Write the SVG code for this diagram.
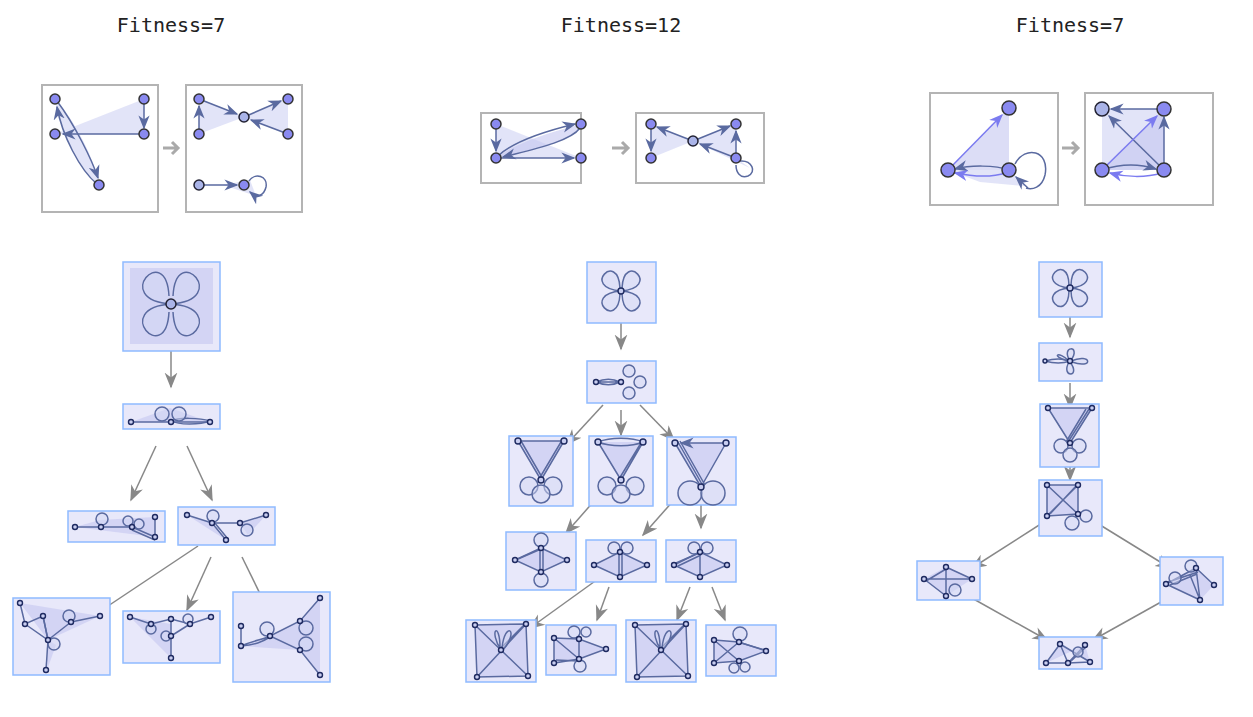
<svg xmlns="http://www.w3.org/2000/svg" width="1253" height="717" viewBox="0 0 1253 717">
<defs>
<marker id="ga" viewBox="0 0 10 10" refX="9" refY="5" markerWidth="9" markerHeight="9" orient="auto" markerUnits="userSpaceOnUse"><path d="M0,0 L10,5 L0,10 L3,5 Z" fill="#888"/></marker>
<marker id="ga2" viewBox="0 0 10 10" refX="9" refY="5" markerWidth="16" markerHeight="16" orient="auto" markerUnits="userSpaceOnUse"><path d="M0,1 L10,5 L0,9 L3,5 Z" fill="#888"/></marker>
<marker id="ea" viewBox="0 0 10 10" refX="9" refY="5" markerWidth="10" markerHeight="10" orient="auto" markerUnits="userSpaceOnUse"><path d="M0,1 L10,5 L0,9 L3,5 Z" fill="#5a6aa0"/></marker>
<marker id="eb" viewBox="0 0 10 10" refX="9" refY="5" markerWidth="14" markerHeight="14" orient="auto" markerUnits="userSpaceOnUse"><path d="M0,1 L10,5 L0,9 L3,5 Z" fill="#5a6aa0"/></marker>
<marker id="ep" viewBox="0 0 10 10" refX="9" refY="5" markerWidth="14" markerHeight="14" orient="auto" markerUnits="userSpaceOnUse"><path d="M0,1 L10,5 L0,9 L3,5 Z" fill="#7b7bf0"/></marker>
</defs>
<style>
.t{font-family:"DejaVu Sans Mono","Liberation Mono",monospace;font-size:20px;fill:#222;text-anchor:middle}
.rule{fill:#fff;stroke:#b4b4b4;stroke-width:2}
.box{fill:#e8e8fa;stroke:#8fbaff;stroke-width:1.5}
.sh{fill:#c4c7f0;opacity:0.6}
.sh2{fill:#dfe1f7;opacity:0.9}
.e{fill:none;stroke:#5a6aa0;stroke-width:1.5}
.ea{fill:none;stroke:#5a6aa0;stroke-width:1.5;marker-end:url(#eb)}
.ep{fill:none;stroke:#7b7bf0;stroke-width:1.5;marker-end:url(#ep)}
.lp{fill:#d4d7f4;fill-opacity:0.5;stroke:#5a6aa0;stroke-width:1.5}
.big{fill:#8a8af0;stroke:#333;stroke-width:1.5}
.bigl{fill:#aab4e8;stroke:#223;stroke-width:1.5}
.v{fill:#c8cdf0;stroke:#1e2a60;stroke-width:1.4}
.c{fill:none;stroke:#888;stroke-width:1.5;marker-end:url(#ga2)}
.ra{fill:none;stroke:#aaa;stroke-width:3}
</style>

<text class="t" x="171" y="32">Fitness=7</text>
<text class="t" x="621" y="32">Fitness=12</text>
<text class="t" x="1070" y="32">Fitness=7</text>

<g id="connectors">
<path class="ra" d="M163,148 H178 M172,142 L178,148 L172,154"/>
<path class="ra" d="M612,148 H628 M622,142 L628,148 L622,154"/>
<path class="ra" d="M1062,148 H1078 M1072,142 L1078,148 L1072,154"/>
<line class="c" x1="171" y1="340" x2="171" y2="387"/>
<line class="c" x1="156" y1="446" x2="131" y2="500"/>
<line class="c" x1="187" y1="446" x2="212" y2="500"/>
<line class="c" x1="198" y1="546" x2="90" y2="618"/>
<line class="c" x1="211" y1="557" x2="187" y2="610"/>
<line class="c" x1="242" y1="557" x2="268" y2="610"/>
<line class="c" x1="621" y1="322" x2="621" y2="349"/>
<line class="c" x1="603" y1="405" x2="567" y2="444"/>
<line class="c" x1="621" y1="410" x2="621" y2="435"/>
<line class="c" x1="640" y1="405" x2="674" y2="440"/>
<line class="c" x1="602" y1="492" x2="566" y2="533"/>
<line class="c" x1="682" y1="491" x2="643" y2="535"/>
<line class="c" x1="701" y1="503" x2="701" y2="528"/>
<line class="c" x1="598" y1="579" x2="530" y2="628"/>
<line class="c" x1="609" y1="587" x2="597" y2="620"/>
<line class="c" x1="690" y1="587" x2="677" y2="620"/>
<line class="c" x1="712" y1="587" x2="725" y2="620"/>
<line class="c" x1="1070" y1="317" x2="1070" y2="337"/>
<line class="c" x1="1070" y1="383" x2="1070" y2="408"/>
<line class="c" x1="1070" y1="465" x2="1070" y2="480"/>
<line class="c" x1="1047" y1="520" x2="972" y2="568"/>
<line class="c" x1="1092" y1="520" x2="1170" y2="568"/>
<line class="c" x1="970" y1="597" x2="1047" y2="640"/>
<line class="c" x1="1170" y1="597" x2="1093" y2="640"/>
</g>

<!-- LEFT rule -->
<g id="L-rule-lhs">
<rect class="rule" x="42" y="85" width="116" height="127"/>
<polygon class="sh2" points="55,134 144,99 144,134"/>
<path class="sh2" d="M55,99 C75,120 95,160 99,185 C80,170 60,130 55,99Z"/>
<line class="ea" x1="144" y1="99" x2="144" y2="128"/>
<line class="ea" x1="144" y1="134" x2="63" y2="134"/>
<path class="ea" d="M57,101 C75,125 92,160 98,178"/>
<path class="ea" d="M97,184 C80,170 62,135 57,107"/>
<circle class="big" cx="55" cy="99" r="5"/><circle class="big" cx="144" cy="99" r="5"/>
<circle class="big" cx="55" cy="134" r="5"/><circle class="big" cx="144" cy="134" r="5"/>
<circle class="big" cx="99" cy="185" r="5"/>
</g>
<g id="L-rule-rhs">
<rect class="rule" x="186" y="85" width="116" height="127"/>
<polygon class="sh2" points="199,134 244,117 199,99"/>
<polygon class="sh2" points="244,117 288,99 288,134"/>
<polygon class="sh2" points="223,185 250,180 256,196"/>
<line class="ea" x1="199" y1="134" x2="199" y2="106"/>
<line class="ea" x1="199" y1="99" x2="237" y2="114"/>
<line class="ea" x1="244" y1="117" x2="281" y2="101"/>
<line class="ea" x1="288" y1="134" x2="251" y2="120"/>
<line class="ea" x1="199" y1="185" x2="237" y2="185"/>
<path class="e" d="M249,181 C255,172 268,176 266,187 C264,196 256,198 252,194"/>
<path class="ea" d="M256,197 L250,192"/>
<circle class="big" cx="199" cy="99" r="5"/><circle class="big" cx="288" cy="99" r="5"/>
<circle class="big" cx="199" cy="134" r="5"/><circle class="big" cx="288" cy="134" r="5"/>
<circle class="bigl" cx="244" cy="117" r="5"/>
<circle class="bigl" cx="199" cy="185" r="5"/><circle class="big" cx="244" cy="185" r="5"/>
</g>

<!-- LEFT tree -->
<g id="L1">
<rect class="box" x="123" y="262" width="97" height="89"/>
<rect class="sh" x="130" y="268" width="83" height="76" opacity="0.4"/>
<path class="lp" d="M171,304 C110,300 166,240 169,296"/>
<path class="lp" d="M171,304 C232,300 176,240 173,296"/>
<path class="lp" d="M171,304 C110,308 166,368 169,312"/>
<path class="lp" d="M171,304 C232,308 176,368 173,312"/>
<circle class="bigl" cx="171" cy="304" r="5"/>
</g>
<g id="L2">
<rect class="box" x="123" y="404" width="97" height="25"/>
<polygon class="sh" points="131,422 170,408 210,422"/>
<line class="e" x1="131" y1="422" x2="210" y2="422"/>
<path class="e" d="M172,421 C178,417 200,418 210,421 C200,425 178,425 172,421"/>
<circle class="lp" cx="162" cy="414" r="7"/><circle class="lp" cx="179" cy="414" r="7"/>
<circle class="v" cx="131" cy="422" r="2.5"/><circle class="v" cx="171" cy="422" r="2.5"/><circle class="v" cx="210" cy="422" r="2.5"/>
</g>
<g id="L3a">
<rect class="box" x="68" y="511" width="97" height="31"/>
<polygon class="sh" points="75,527 100,520 155,517 155,537"/>
<polyline class="e" points="75,527 101,527 132,527 155,537 155,517"/>
<line class="e" x1="132" y1="530" x2="155" y2="540"/>
<circle class="lp" cx="102" cy="519" r="6"/><circle class="lp" cx="128" cy="521" r="5"/><circle class="lp" cx="139" cy="524" r="5"/>
<circle class="v" cx="75" cy="527" r="2.5"/><circle class="v" cx="101" cy="527" r="2.5"/><circle class="v" cx="132" cy="527" r="2.5"/>
<circle class="v" cx="155" cy="517" r="2.5"/><circle class="v" cx="155" cy="537" r="2.5"/>
</g>
<g id="L3b">
<rect class="box" x="178" y="507" width="97" height="38"/>
<polygon class="sh" points="187,515 212,523 226,540"/>
<polygon class="sh" points="240,523 266,515 248,535"/>
<polyline class="e" points="187,515 212,523 240,523 266,515"/>
<line class="e" x1="212" y1="523" x2="226" y2="540"/><line class="e" x1="214" y1="522" x2="228" y2="539"/>
<circle class="lp" cx="213" cy="516" r="6"/><circle class="lp" cx="247" cy="530" r="6"/>
<circle class="v" cx="187" cy="515" r="2.5"/><circle class="v" cx="212" cy="523" r="2.5"/><circle class="v" cx="240" cy="523" r="2.5"/>
<circle class="v" cx="266" cy="515" r="2.5"/><circle class="v" cx="226" cy="540" r="2.5"/>
</g>
<g id="L4a">
<rect class="box" x="13" y="598" width="97" height="77"/>
<polygon class="sh" points="20,603 48,640 100,616"/>
<polygon class="sh" points="48,640 47,670 56,645"/>
<polyline class="e" points="20,603 25,624 43,616 48,640 25,624"/>
<line class="e" x1="43" y1="616" x2="48" y2="640"/>
<line class="e" x1="48" y1="640" x2="71" y2="622"/>
<line class="e" x1="71" y1="622" x2="100" y2="616"/>
<line class="e" x1="48" y1="640" x2="46" y2="670"/>
<circle class="lp" cx="69" cy="616" r="6"/><circle class="lp" cx="54" cy="644" r="6"/>
<circle class="v" cx="20" cy="603" r="2.5"/><circle class="v" cx="25" cy="624" r="2.5"/><circle class="v" cx="43" cy="616" r="2.5"/>
<circle class="v" cx="48" cy="640" r="2.5"/><circle class="v" cx="71" cy="622" r="2.5"/><circle class="v" cx="100" cy="616" r="2.5"/>
<circle class="v" cx="46" cy="670" r="2.5"/>
</g>
<g id="L4b">
<rect class="box" x="123" y="611" width="97" height="52"/>
<polygon class="sh" points="130,617 171,624 171,658"/>
<polyline class="e" points="130,617 151,624 171,619 190,624 211,617"/>
<line class="e" x1="171" y1="619" x2="171" y2="658"/>
<line class="e" x1="171" y1="636" x2="190" y2="624"/>
<circle class="lp" cx="151" cy="629" r="5"/><circle class="lp" cx="166" cy="636" r="5"/><circle class="lp" cx="188" cy="619" r="5"/>
<circle class="v" cx="130" cy="617" r="2.5"/><circle class="v" cx="151" cy="624" r="2.5"/><circle class="v" cx="171" cy="619" r="2.5"/>
<circle class="v" cx="171" cy="636" r="2.5"/><circle class="v" cx="190" cy="624" r="2.5"/><circle class="v" cx="211" cy="617" r="2.5"/>
<circle class="v" cx="171" cy="658" r="2.5"/>
</g>
<g id="L4c">
<rect class="box" x="233" y="592" width="97" height="90"/>
<polygon class="sh" points="241,646 270,636 300,621 320,598 320,675 300,650"/>
<line class="e" x1="241" y1="626" x2="241" y2="646"/>
<path class="e" d="M241,646 C255,640 262,640 270,636 M241,646 C255,645 262,642 270,637"/>
<polyline class="e" points="320,598 300,621 270,636 300,650 320,675"/>
<circle class="lp" cx="267" cy="629" r="7"/><circle class="lp" cx="306" cy="628" r="7"/><circle class="lp" cx="306" cy="644" r="7"/>
<circle class="v" cx="241" cy="626" r="2.5"/><circle class="v" cx="241" cy="646" r="2.5"/><circle class="v" cx="270" cy="636" r="2.5"/>
<circle class="v" cx="300" cy="621" r="2.5"/><circle class="v" cx="300" cy="650" r="2.5"/><circle class="v" cx="320" cy="598" r="2.5"/>
<circle class="v" cx="320" cy="675" r="2.5"/>
</g>

<!-- MIDDLE rule -->
<g id="M-rule-lhs">
<rect class="rule" x="481" y="113" width="100" height="70"/>
<polygon class="sh2" points="496,124 581,158 496,158"/>
<path class="sh" d="M496,158 C520,140 560,130 581,124 C575,140 540,148 496,158Z"/>
<line class="ea" x1="496" y1="124" x2="496" y2="151"/>
<path class="ea" d="M498,156 C515,140 550,130 575,124"/>
<path class="ea" d="M580,128 C570,142 530,150 503,157"/>
<line class="ea" x1="496" y1="158" x2="574" y2="158"/>
<circle class="big" cx="496" cy="124" r="5"/><circle class="big" cx="581" cy="124" r="5"/>
<circle class="big" cx="496" cy="158" r="5"/><circle class="big" cx="581" cy="158" r="5"/>
</g>
<g id="M-rule-rhs">
<rect class="rule" x="636" y="113" width="128" height="70"/>
<polygon class="sh2" points="651,124 651,158 693,141"/>
<polygon class="sh2" points="693,141 736,124 736,158 750,168"/>
<line class="ea" x1="693" y1="141" x2="657" y2="127"/>
<line class="ea" x1="651" y1="124" x2="651" y2="151"/>
<line class="ea" x1="693" y1="141" x2="730" y2="126"/>
<line class="ea" x1="736" y1="158" x2="700" y2="144"/>
<line class="ea" x1="736" y1="158" x2="736" y2="131"/>
<path class="e" d="M740,161 C752,160 757,172 748,176 C740,179 736,172 736,165"/>
<circle class="big" cx="651" cy="124" r="5"/><circle class="big" cx="736" cy="124" r="5"/>
<circle class="big" cx="651" cy="158" r="5"/><circle class="big" cx="736" cy="158" r="5"/>
<circle class="bigl" cx="693" cy="141" r="5"/>
</g>

<!-- MIDDLE tree -->
<g id="M1">
<rect class="box" x="587" y="262" width="69" height="61"/>
<path class="lp" d="M621,291 C580,288 618,250 620,288"/>
<path class="lp" d="M621,291 C662,288 624,250 622,288"/>
<path class="lp" d="M621,291 C580,294 618,332 620,294"/>
<path class="lp" d="M621,291 C662,294 624,332 622,294"/>
<circle class="v" cx="621" cy="291" r="3"/>
</g>
<g id="M2">
<rect class="box" x="587" y="361" width="69" height="42"/>
<path class="e" d="M596,382 C605,378 612,378 620,382 C612,386 605,386 596,382 M598,382 H620"/>
<circle class="lp" cx="629" cy="371" r="6"/><circle class="lp" cx="640" cy="382" r="6"/><circle class="lp" cx="629" cy="393" r="6"/>
<circle class="v" cx="596" cy="382" r="2.5"/><circle class="v" cx="621" cy="382" r="2.5"/>
</g>
<g id="M3a">
<rect class="box" x="509" y="436" width="64" height="70"/>
<polygon class="sh" points="518,441 564,441 541,480"/>
<line class="e" x1="518" y1="441" x2="564" y2="441"/>
<path class="e" d="M518,441 L541,480 M521,441 L543,479 M564,441 L541,480 M561,442 L539,479"/>
<circle class="lp" cx="529" cy="486" r="9"/><circle class="lp" cx="553" cy="486" r="9"/><circle class="lp" cx="541" cy="494" r="9"/>
<circle class="v" cx="518" cy="441" r="3"/><circle class="v" cx="564" cy="441" r="3"/><circle class="v" cx="541" cy="480" r="3"/>
</g>
<g id="M3b">
<rect class="box" x="589" y="436" width="64" height="70"/>
<polygon class="sh" points="598,442 643,442 621,480"/>
<path class="e" d="M598,442 C610,437 632,437 643,442 C632,447 610,447 598,442"/>
<path class="e" d="M598,442 L621,480 M643,442 L621,480 M641,443 L619,479"/>
<circle class="lp" cx="607" cy="486" r="9"/><circle class="lp" cx="635" cy="486" r="9"/><circle class="lp" cx="621" cy="494" r="9"/>
<circle class="v" cx="598" cy="442" r="3"/><circle class="v" cx="643" cy="442" r="3"/><circle class="v" cx="621" cy="480" r="3"/>
</g>
<g id="M3c">
<rect class="box" x="667" y="437" width="69" height="68"/>
<polygon class="sh" points="675,443 726,443 701,487"/>
<line class="ea" x1="726" y1="443" x2="681" y2="443"/>
<path class="e" d="M675,443 L701,487 M678,442 L703,486 M680,441 L705,485 M726,443 L701,487"/>
<circle class="lp" cx="690" cy="493" r="12"/><circle class="lp" cx="713" cy="493" r="12"/>
<circle class="v" cx="675" cy="443" r="3"/><circle class="v" cx="726" cy="443" r="3"/><circle class="v" cx="701" cy="487" r="3"/>
</g>
<g id="M4a">
<rect class="box" x="506" y="532" width="70" height="58"/>
<polygon class="sh" points="515,560 541,548 567,560 541,572"/>
<polyline class="e" points="541,548 515,560 541,572 567,560 541,548"/>
<path class="e" d="M540,548 V572 M543,548 V572 M518,559 L541,549"/>
<circle class="lp" cx="541" cy="540" r="7"/><circle class="lp" cx="541" cy="580" r="7"/>
<circle class="v" cx="541" cy="548" r="2.5"/><circle class="v" cx="515" cy="560" r="2.5"/><circle class="v" cx="567" cy="560" r="2.5"/><circle class="v" cx="541" cy="572" r="2.5"/>
</g>
<g id="M4b">
<rect class="box" x="586" y="540" width="70" height="42"/>
<polygon class="sh" points="594,565 620,552 647,565 620,577"/>
<polyline class="e" points="594,565 620,552 647,565 620,577 594,565"/>
<path class="e" d="M619,552 V577 M622,552 V577"/>
<circle class="lp" cx="614" cy="548" r="6"/><circle class="lp" cx="627" cy="548" r="6"/>
<circle class="v" cx="594" cy="565" r="2.5"/><circle class="v" cx="620" cy="552" r="2.5"/><circle class="v" cx="647" cy="565" r="2.5"/><circle class="v" cx="620" cy="577" r="2.5"/>
</g>
<g id="M4c">
<rect class="box" x="666" y="540" width="70" height="42"/>
<polygon class="sh" points="674,565 700,552 727,565 700,577"/>
<polyline class="e" points="674,565 700,552 727,565 700,577 674,565"/>
<path class="e" d="M700,552 V577 M676,563 L699,553 M678,566 L701,555"/>
<circle class="lp" cx="694" cy="548" r="6"/><circle class="lp" cx="707" cy="548" r="6"/>
<circle class="v" cx="674" cy="565" r="2.5"/><circle class="v" cx="700" cy="552" r="2.5"/><circle class="v" cx="727" cy="565" r="2.5"/><circle class="v" cx="700" cy="577" r="2.5"/>
</g>
<g id="M5a">
<rect class="box" x="466" y="620" width="70" height="62"/>
<polygon class="sh" points="475,625 526,624 528,676 477,677"/>
<polyline class="e" points="475,625 526,624 528,676 477,677 475,625"/>
<path class="e" d="M475,625 L528,676 M526,624 L477,677 M524,625 L499,650"/>
<path class="lp" d="M501,650 C488,630 500,620 500,648"/><path class="lp" d="M503,650 C520,630 505,620 502,648"/>
<circle class="v" cx="475" cy="625" r="2.5"/><circle class="v" cx="526" cy="624" r="2.5"/><circle class="v" cx="528" cy="676" r="2.5"/><circle class="v" cx="477" cy="677" r="2.5"/><circle class="v" cx="501" cy="650" r="2.5"/>
</g>
<g id="M5b">
<rect class="box" x="546" y="625" width="70" height="50"/>
<polygon class="sh" points="554,638 579,639 606,649 579,659 554,663"/>
<polyline class="e" points="554,638 579,639 606,649 579,659 554,663 554,638"/>
<path class="e" d="M554,638 L579,659 M579,639 V659 M556,660 L578,661"/>
<circle class="lp" cx="574" cy="632" r="6"/><circle class="lp" cx="586" cy="632" r="5"/><circle class="lp" cx="580" cy="666" r="6"/>
<circle class="v" cx="554" cy="638" r="2.5"/><circle class="v" cx="579" cy="639" r="2.5"/><circle class="v" cx="606" cy="649" r="2.5"/><circle class="v" cx="579" cy="659" r="2.5"/><circle class="v" cx="554" cy="663" r="2.5"/>
</g>
<g id="M5c">
<rect class="box" x="626" y="620" width="70" height="62"/>
<polygon class="sh" points="635,625 686,624 688,676 637,677"/>
<polyline class="e" points="635,625 686,624 688,676 637,677 635,625"/>
<path class="e" d="M635,625 L688,676 M686,624 L637,677 M684,625 L659,650"/>
<path class="lp" d="M661,650 C648,630 660,620 660,648"/><path class="lp" d="M663,650 C680,630 665,620 662,648"/>
<circle class="v" cx="635" cy="625" r="2.5"/><circle class="v" cx="686" cy="624" r="2.5"/><circle class="v" cx="688" cy="676" r="2.5"/><circle class="v" cx="637" cy="677" r="2.5"/><circle class="v" cx="661" cy="650" r="2.5"/>
</g>
<g id="M5d">
<rect class="box" x="706" y="625" width="70" height="51"/>
<polygon class="sh" points="714,640 739,642 766,651 739,661 714,663"/>
<polyline class="e" points="714,640 739,642 766,651 739,661 714,663 714,640"/>
<path class="e" d="M714,640 L739,661 M714,663 L739,642 M741,643 L765,650"/>
<circle class="lp" cx="740" cy="634" r="7"/><circle class="lp" cx="734" cy="668" r="5"/><circle class="lp" cx="745" cy="667" r="5"/>
<circle class="v" cx="714" cy="640" r="2.5"/><circle class="v" cx="739" cy="642" r="2.5"/><circle class="v" cx="766" cy="651" r="2.5"/><circle class="v" cx="739" cy="661" r="2.5"/><circle class="v" cx="714" cy="663" r="2.5"/>
</g>

<!-- RIGHT rule -->
<g id="R-rule-lhs">
<rect class="rule" x="930" y="93" width="128" height="112"/>
<polygon class="sh" points="948,170 1009,108 1009,170"/>
<polygon class="sh2" points="948,170 1009,170 1025,186 980,182"/>
<line class="ep" x1="948" y1="170" x2="1002" y2="115"/>
<path class="ea" d="M1009,170 C995,165 970,165 955,169"/>
<path class="ep" d="M1006,173 C990,178 970,176 955,173"/>
<path class="e" d="M1015,164 C1025,145 1050,150 1045,175 C1042,188 1032,190 1026,188"/>
<path class="ea" d="M1028,188 L1016,177"/>
<circle class="big" cx="1009" cy="108" r="7"/><circle class="big" cx="948" cy="170" r="7"/><circle class="big" cx="1009" cy="170" r="7"/>
</g>
<g id="R-rule-rhs">
<rect class="rule" x="1085" y="93" width="128" height="112"/>
<polygon class="sh2" points="1102,109 1164,109 1164,170 1102,170"/>
<polygon class="sh" points="1102,170 1164,109 1164,170"/>
<line class="ea" x1="1164" y1="109" x2="1111" y2="109"/>
<line class="ea" x1="1164" y1="170" x2="1109" y2="116"/>
<line class="ep" x1="1102" y1="170" x2="1157" y2="116"/>
<line class="ea" x1="1164" y1="170" x2="1164" y2="117"/>
<path class="ea" d="M1102,170 C1120,164 1140,164 1156,169"/>
<path class="ep" d="M1162,173 C1145,178 1125,177 1110,173"/>
<circle class="bigl" cx="1102" cy="109" r="7"/><circle class="big" cx="1164" cy="109" r="7"/>
<circle class="big" cx="1102" cy="170" r="7"/><circle class="big" cx="1164" cy="170" r="7"/>
</g>

<!-- RIGHT tree -->
<g id="R1">
<rect class="box" x="1039" y="262" width="63" height="55"/>
<path class="lp" d="M1070,288 C1032,285 1068,250 1069,285"/>
<path class="lp" d="M1070,288 C1108,285 1072,250 1071,285"/>
<path class="lp" d="M1070,288 C1032,291 1068,326 1069,291"/>
<path class="lp" d="M1070,288 C1108,291 1072,326 1071,291"/>
<circle class="v" cx="1070" cy="288" r="3"/>
</g>
<g id="R2">
<rect class="box" x="1039" y="343" width="63" height="38"/>
<path class="e" d="M1045,361 C1055,358 1062,358 1070,361 C1062,364 1055,364 1045,361"/>
<path class="lp" d="M1070,361 C1060,345 1082,345 1071,360"/>
<path class="lp" d="M1071,361 C1092,352 1094,370 1072,362"/>
<path class="lp" d="M1070,362 C1082,378 1060,378 1069,362"/>
<path class="lp" d="M1069,361 C1058,350 1050,356 1068,361"/>
<circle class="v" cx="1045" cy="361" r="2"/><circle class="v" cx="1070" cy="361" r="2.5"/>
</g>
<g id="R3">
<rect class="box" x="1040" y="404" width="59" height="63"/>
<polygon class="sh" points="1048,408 1092,408 1070,443"/>
<line class="e" x1="1048" y1="408" x2="1092" y2="408"/>
<path class="e" d="M1048,408 L1070,443 M1092,408 L1070,443 M1089,409 L1068,442 M1086,409 L1066,442"/>
<circle class="lp" cx="1061" cy="446" r="7"/><circle class="lp" cx="1079" cy="446" r="7"/><circle class="lp" cx="1070" cy="455" r="7"/>
<circle class="v" cx="1048" cy="408" r="2.5"/><circle class="v" cx="1092" cy="408" r="2.5"/><circle class="v" cx="1070" cy="443" r="2.5"/>
</g>
<g id="R4">
<rect class="box" x="1039" y="480" width="63" height="56"/>
<polygon class="sh" points="1047,485 1078,485 1078,514 1047,516"/>
<polyline class="e" points="1047,485 1078,485 1078,514 1047,516 1047,485"/>
<path class="e" d="M1047,485 L1078,514 M1078,485 L1047,516 M1050,514 L1076,486"/>
<circle class="lp" cx="1072" cy="523" r="7"/><circle class="lp" cx="1086" cy="516" r="6"/>
<circle class="v" cx="1047" cy="485" r="2.5"/><circle class="v" cx="1078" cy="485" r="2.5"/><circle class="v" cx="1078" cy="514" r="2.5"/><circle class="v" cx="1047" cy="516" r="2.5"/>
</g>
<g id="R5a">
<rect class="box" x="917" y="561" width="63" height="39"/>
<polygon class="sh" points="924,579 946,567 972,579 946,596"/>
<path class="e" d="M924,579 L972,579 M946,567 V596 M924,579 L946,596 M946,567 L972,579 M926,581 L946,569"/>
<circle class="lp" cx="955" cy="590" r="6"/>
<circle class="v" cx="924" cy="579" r="2.5"/><circle class="v" cx="946" cy="567" r="2.5"/><circle class="v" cx="972" cy="579" r="2.5"/><circle class="v" cx="946" cy="596" r="2.5"/>
</g>
<g id="R5b">
<rect class="box" x="1160" y="557" width="63" height="48"/>
<polygon class="sh" points="1166,584 1196,568 1214,585 1200,600"/>
<path class="e" d="M1166,584 L1196,568 M1166,584 L1200,600 M1196,568 L1214,585 M1196,568 L1200,600 M1168,582 L1198,572 M1170,585 L1197,574 M1190,575 L1200,600"/>
<circle class="lp" cx="1191" cy="566" r="6"/><circle class="lp" cx="1175" cy="578" r="6"/>
<circle class="v" cx="1166" cy="584" r="2.5"/><circle class="v" cx="1196" cy="568" r="2.5"/><circle class="v" cx="1214" cy="585" r="2.5"/><circle class="v" cx="1200" cy="600" r="2.5"/>
</g>
<g id="R6">
<rect class="box" x="1039" y="637" width="63" height="32"/>
<polygon class="sh" points="1046,663 1060,644 1090,662 1085,645"/>
<path class="e" d="M1046,663 L1060,644 L1068,663 L1046,663 M1060,644 L1090,662 M1068,663 L1085,645 M1070,662 L1087,646 M1068,663 L1090,662"/>
<circle class="lp" cx="1078" cy="652" r="5"/>
<circle class="v" cx="1046" cy="663" r="2.5"/><circle class="v" cx="1060" cy="644" r="2.5"/><circle class="v" cx="1068" cy="663" r="2.5"/><circle class="v" cx="1090" cy="662" r="2.5"/><circle class="v" cx="1085" cy="645" r="2.5"/>
</g>
</svg>
